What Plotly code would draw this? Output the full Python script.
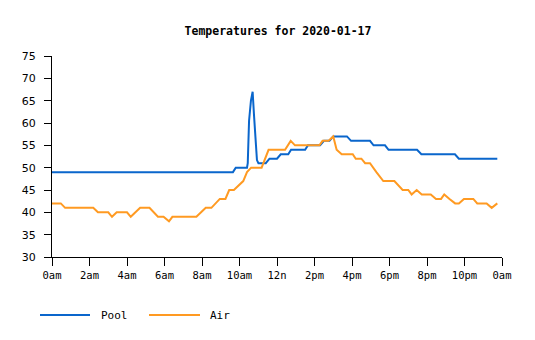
import plotly.graph_objects as go

# Breakpoints (hours since midnight, temperature)
pool_hours = [0, 9.65, 9.8, 10.4, 10.44, 10.51, 10.61, 10.7, 10.77, 10.85, 10.93, 11.01,
              11.4, 11.6, 12.0, 12.2, 12.6, 12.75, 13.5, 13.65, 14.3, 14.5, 14.8, 15.0,
              15.73, 15.95, 16.96, 17.15, 17.76, 17.95, 19.47, 19.7, 21.49, 21.7, 23.75]
pool_temps = [49, 49, 50, 50, 51, 60.5, 65, 67, 62, 56, 51.7, 51,
              51, 52, 52, 53, 53, 54, 54, 55, 55, 56, 56, 57,
              57, 56, 56, 55, 55, 54, 54, 53, 53, 52, 52]

air_hours = [0, 0.47, 0.7, 2.2, 2.45, 3.0, 3.2, 3.45, 4.0, 4.2, 4.45, 4.7, 5.2, 5.45,
             5.65, 5.95, 6.24, 6.42, 7.7, 7.95, 8.2, 8.5, 8.7, 8.95, 9.25, 9.45, 9.7,
             9.95, 10.2, 10.4, 10.62, 11.18, 11.35, 11.55, 12.43, 12.73, 12.96, 14.26,
             14.43, 14.74, 15.0, 15.18, 15.45, 16.04, 16.2, 16.5, 16.7, 16.96, 17.3,
             17.67, 18.26, 18.7, 19.0, 19.18, 19.45, 19.72, 20.2, 20.48, 20.75, 20.92,
             21.2, 21.5, 21.7, 21.97, 22.47, 22.68, 23.18, 23.45, 23.75]
air_temps = [42, 42, 41, 41, 40, 40, 39, 40, 40, 39, 40, 41, 41, 40,
             39, 39, 38, 39, 39, 40, 41, 41, 42, 43, 43, 45, 45,
             46, 47, 49, 50, 50, 52, 54, 54, 56, 55, 55,
             56, 56, 57, 54, 53, 53, 52, 52, 51, 51, 49,
             47, 47, 45, 45, 44, 45, 44, 44, 43, 43, 44,
             43, 42, 42, 43, 43, 42, 42, 41, 42]

tick_hours = [0, 2, 4, 6, 8, 10, 12, 14, 16, 18, 20, 22, 24]
tick_labels = ["0am", "2am", "4am", "6am", "8am", "10am", "12n", "2pm", "4pm",
               "6pm", "8pm", "10pm", "0am"]
y_ticks = [30, 35, 40, 45, 50, 55, 60, 65, 70, 75]

series_names = ["Pool", "Air"]
series_colors = ["#0a66cc", "#ff9a22"]

MONO = "DejaVu Sans Mono, Liberation Mono, monospace"
SANS = "DejaVu Sans, Verdana, sans-serif"

fig = go.Figure()
fig.add_trace(go.Scatter(x=pool_hours, y=pool_temps, mode="lines", name="Pool",
                         line=dict(color=series_colors[0], width=2), hoverinfo="skip"))
fig.add_trace(go.Scatter(x=air_hours, y=air_temps, mode="lines", name="Air",
                         line=dict(color=series_colors[1], width=2), hoverinfo="skip"))

L, R, T, B = 52, 502, 56, 257
W, H = 535, 340

def px_x(p):
    return (p - L) / (R - L)

def px_y(p):
    return (B - p) / (B - T)

# manual legend
legend_y = px_y(315)
legend_items = [(40, 90, 99), (149, 200, 208)]
for (x0, x1, tx), name, col in zip(legend_items, series_names, series_colors):
    fig.add_shape(type="line", xref="paper", yref="paper", x0=px_x(x0), x1=px_x(x1),
                  y0=legend_y, y1=legend_y, line=dict(color=col, width=2))
    fig.add_annotation(xref="paper", yref="paper", x=px_x(tx), y=legend_y, text=name,
                       showarrow=False, xanchor="left", yanchor="middle",
                       font=dict(family=MONO, size=11, color="black"))

fig.update_layout(
    width=W, height=H,
    margin=dict(l=L, r=W - R, t=T, b=H - B),
    paper_bgcolor="white", plot_bgcolor="white",
    showlegend=False,
    title=dict(text="<b>Temperatures for 2020-01-17</b>", x=278 / W,
               xanchor="center", y=1 - 31 / H, yanchor="middle",
               font=dict(family=MONO, size=11.5, color="black")),
    xaxis=dict(range=[0, 24], tickvals=tick_hours, ticktext=tick_labels,
               showgrid=False, zeroline=False, showline=True, linecolor="black", linewidth=1,
               ticks="outside", ticklen=8, tickcolor="black", tickwidth=1,
               tickfont=dict(family=MONO, size=10.5, color="black")),
    yaxis=dict(range=[30, 75], tickvals=y_ticks,
               showgrid=False, zeroline=False, showline=True, linecolor="black", linewidth=1,
               ticks="outside", ticklen=7, tickcolor="black", tickwidth=1,
               ticklabelstandoff=6,
               tickfont=dict(family=SANS, size=11, color="black")),
)

fig.write_html("out.html")
